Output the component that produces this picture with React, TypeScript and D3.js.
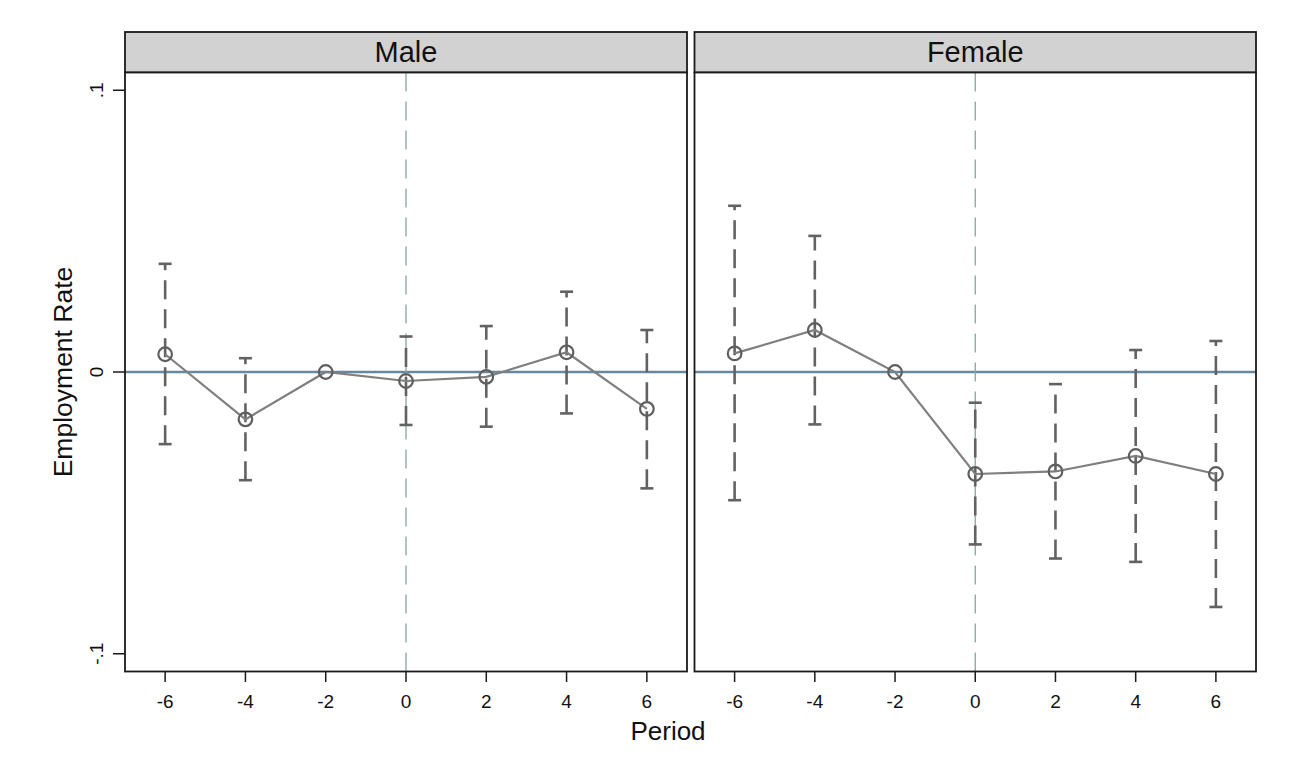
import React from "react";
import * as d3 from "d3";

const periods = [-6, -4, -2, 0, 2, 4, 6];
const panels = ["Male", "Female"];

const maleEst = [0.0063, -0.0168, 0, -0.0032, -0.0017, 0.007, -0.0131];
const maleLo = [-0.0256, -0.0384, null, -0.0188, -0.0194, -0.0147, -0.0413];
const maleHi = [0.0384, 0.0049, null, 0.0126, 0.0163, 0.0285, 0.0149];

const femaleEst = [0.0066, 0.0149, 0, -0.0362, -0.0353, -0.0298, -0.0362];
const femaleLo = [-0.0455, -0.0186, null, -0.0612, -0.0662, -0.0674, -0.0834];
const femaleHi = [0.059, 0.0483, null, -0.0109, -0.0043, 0.0078, 0.011];

const yTicks = [0.1, 0, -0.1];
const yTickLabels = [".1", "0", "-.1"];
const xTicks = [-6, -4, -2, 0, 2, 4, 6];

const series = [
  { est: maleEst, lo: maleLo, hi: maleHi },
  { est: femaleEst, lo: femaleLo, hi: femaleHi },
];

const FONT = "Arial, 'Liberation Sans', Helvetica, sans-serif";

export default function App() {
  const W = 1309;
  const H = 763;
  const top = 72.5;
  const bottom = 671.5;
  const stripTop = 32;
  const panelX = [
    [125, 687],
    [694.5, 1256],
  ];
  const y = d3.scaleLinear().domain([-0.1063, 0.1063]).range([bottom, top]);

  return (
    <svg
      width={W}
      height={H}
      style={{ position: "absolute", left: 0, top: 0, background: "#fff" }}
      fontFamily={FONT}
    >
      <rect x={0} y={0} width={W} height={H} fill="#fff" />
      {panels.map((name, pi) => {
        const [x0, x1] = panelX[pi];
        const x = d3.scaleLinear().domain([-7, 7]).range([x0, x1]);
        const s = series[pi];
        const pts = periods.map((p, i) => [x(p), y(s.est[i])] as [number, number]);
        const line = d3.line()(pts) || "";
        return (
          <g key={name}>
            <rect
              x={x0}
              y={stripTop}
              width={x1 - x0}
              height={top - stripTop}
              fill="#d2d2d2"
              stroke="#1a1a1a"
              strokeWidth={1.8}
            />
            <text
              x={(x0 + x1) / 2}
              y={62}
              textAnchor="middle"
              fontSize={29}
              fill="#111"
            >
              {name}
            </text>
            <rect x={x0} y={top} width={x1 - x0} height={bottom - top} fill="#fff" />
            <line
              x1={x0}
              x2={x1}
              y1={y(0)}
              y2={y(0)}
              stroke="#6888a0"
              strokeWidth={2.5}
            />
            <line
              x1={x(0)}
              x2={x(0)}
              y1={top}
              y2={bottom}
              stroke="#86a69c"
              strokeWidth={1.3}
              strokeDasharray="19 10"
            />
            {periods.map((p, i) => {
              const lo = s.lo[i];
              const hi = s.hi[i];
              if (lo === null || hi === null) return null;
              const cx = x(p);
              return (
                <g key={"eb" + i} stroke="#626262" strokeWidth={2.6}>
                  <line
                    x1={cx}
                    x2={cx}
                    y1={y(lo)}
                    y2={y(hi)}
                    strokeDasharray="19 10"
                  />
                  <line x1={cx - 6.5} x2={cx + 6.5} y1={y(hi)} y2={y(hi)} />
                  <line x1={cx - 6.5} x2={cx + 6.5} y1={y(lo)} y2={y(lo)} />
                </g>
              );
            })}
            <path d={line} fill="none" stroke="#7f7f7f" strokeWidth={2.2} />
            {pts.map((pt, i) => (
              <circle
                key={"m" + i}
                cx={pt[0]}
                cy={pt[1]}
                r={6.8}
                fill="none"
                stroke="#5e5e5e"
                strokeWidth={2.2}
              />
            ))}
            <rect
              x={x0}
              y={top}
              width={x1 - x0}
              height={bottom - top}
              fill="none"
              stroke="#1a1a1a"
              strokeWidth={1.8}
            />
            {xTicks.map((t) => (
              <g key={"xt" + t}>
                <line
                  x1={x(t)}
                  x2={x(t)}
                  y1={bottom}
                  y2={682}
                  stroke="#1a1a1a"
                  strokeWidth={1.5}
                />
                <text
                  x={x(t)}
                  y={708}
                  textAnchor="middle"
                  fontSize={19}
                  fill="#111"
                >
                  {t}
                </text>
              </g>
            ))}
          </g>
        );
      })}
      {yTicks.map((t, i) => (
        <g key={"yt" + i}>
          <line
            x1={113}
            x2={125}
            y1={y(t)}
            y2={y(t)}
            stroke="#1a1a1a"
            strokeWidth={1.5}
          />
          <text
            transform={`translate(103,${y(t)}) rotate(-90)`}
            textAnchor="middle"
            fontSize={19}
            fill="#111"
          >
            {yTickLabels[i]}
          </text>
        </g>
      ))}
      <text
        transform={`translate(72,${y(0)}) rotate(-90)`}
        textAnchor="middle"
        fontSize={26.5}
        fill="#111"
      >
        Employment Rate
      </text>
      <text x={668} y={740} textAnchor="middle" fontSize={26} fill="#111">
        Period
      </text>
    </svg>
  );
}
